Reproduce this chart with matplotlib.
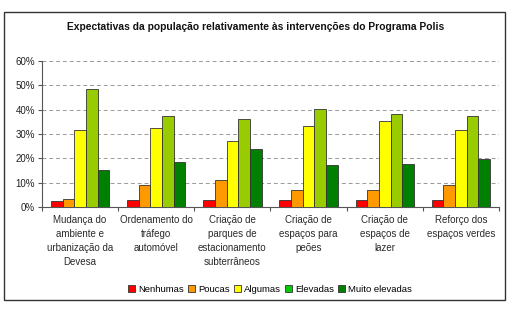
import matplotlib
matplotlib.use("Agg")
import matplotlib.pyplot as plt
from matplotlib.patches import Patch, Rectangle
import numpy as np

plt.rcParams["font.family"] = ["Liberation Sans", "DejaVu Sans"]

categories = ["Mudança do\nambiente e\nurbanização da\nDevesa",
              "Ordenamento do\ntráfego\nautomóvel",
              "Criação de\nparques de\nestacionamento\nsubterrâneos",
              "Criação de\nespaços para\npeões",
              "Criação de\nespaços de\nlazer",
              "Reforço dos\nespaços verdes"]
series = ["Nenhumas", "Poucas", "Algumas", "Elevadas", "Muito elevadas"]
nenhumas = [2.3, 3.0, 2.8, 2.9, 2.9, 2.9]
poucas = [3.1, 8.9, 10.9, 7.1, 6.8, 8.9]
algumas = [31.7, 32.5, 27.0, 33.2, 35.4, 31.8]
elevadas = [48.3, 37.6, 36.1, 40.1, 38.4, 37.4]
muito_elevadas = [15.2, 18.6, 24.0, 17.1, 17.6, 19.7]
yticks = [0, 10, 20, 30, 40, 50, 60]

values = [nenhumas, poucas, algumas, elevadas, muito_elevadas]
bar_colors = ["#FF0000", "#FF9900", "#FFFF00", "#99CC00", "#008000"]
legend_colors = ["#FF0000", "#FF9900", "#FFFF00", "#00CC00", "#008000"]

fig = plt.figure(figsize=(5.09, 3.09), dpi=100)
fig.patches.append(Rectangle((4/509, 1-300/309), 501/509, 288/309, transform=fig.transFigure,
                             fill=False, edgecolor="#333333", linewidth=1.0))
ax = fig.add_axes([42/509, 1-207/309, 457/509, 146/309])

x = np.arange(len(categories))
w = 0.153
for i, (vals, c) in enumerate(zip(values, bar_colors)):
    ax.bar(x + (i - 2) * w, vals, width=w, color=c, edgecolor="#333333", linewidth=0.6, zorder=3)

ax.set_xlim(-0.5, len(categories) - 0.5)
ax.set_ylim(0, 60)
ax.set_yticks(yticks)
ax.set_yticklabels([f"{t}%" for t in yticks], fontsize=7, color="#222222")
for t in yticks[1:]:
    ax.axhline(t, color="#999999", linestyle=(0, (4, 3)), linewidth=0.7, zorder=1)

ax.set_xticks(np.arange(-0.5, len(categories) + 0.5, 1))
ax.set_xticklabels([])
ax.set_xticks(x, minor=True)
ax.set_xticklabels(categories, minor=True, fontsize=7, color="#2a2a2a", linespacing=1.5)
ax.tick_params(axis="x", which="minor", length=0, pad=6)
ax.tick_params(axis="x", which="major", length=3, direction="out", color="#555555")
ax.tick_params(axis="y", length=3, direction="out", color="#555555", pad=2)

for s in ["top", "right"]:
    ax.spines[s].set_visible(False)
for s in ["left", "bottom"]:
    ax.spines[s].set_color("#555555")
    ax.spines[s].set_linewidth(0.8)

fig.text(256/509, 1-27/309, "Expectativas da população relativamente às intervenções do Programa Polis",
         ha="center", va="center", fontsize=7.4, fontweight="bold", color="#111111")

handles = [Patch(facecolor=c, edgecolor="#333333", linewidth=0.6) for c in legend_colors]
fig.legend(handles, series, loc="center", bbox_to_anchor=(270/509, 1-289/309), ncol=5,
           frameon=False, fontsize=6.8, handlelength=0.75, handleheight=0.75,
           handletextpad=0.3, columnspacing=0.45)

fig.savefig("out.png", dpi=100)
